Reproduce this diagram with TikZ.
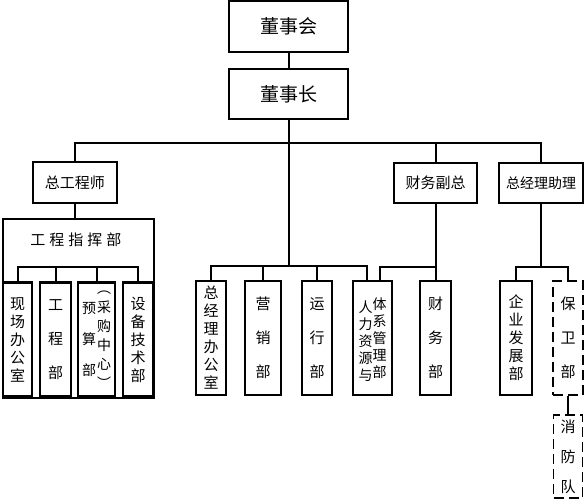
\documentclass[tikz,border=0pt]{standalone}
\usepackage{fontspec}
\setmainfont{Noto Sans CJK SC}
\usetikzlibrary{positioning}

\begin{document}
\begin{tikzpicture}[x=1pt, y=-1pt,
  topbox/.style={draw, line width=1.6pt, inner sep=0pt, align=center},
  unitbox/.style={draw, line width=2.4pt, inner sep=0pt, align=center,
                  minimum height=114pt, font=\fontsize{15}{18}\selectfont},
  dashbox/.style={unitbox, line width=1.8pt, dash pattern=on 10pt off 5pt},
  link/.style={line width=2pt},
]
\useasboundingbox (0,0) rectangle (584,500);

% Board and chairman
\node[topbox, minimum width=119pt, minimum height=51pt, font=\fontsize{19}{19}\selectfont] (board) at (288.5, 26.5) {董事会};
\node[topbox, minimum width=119pt, minimum height=50pt, font=\fontsize{19}{19}\selectfont] (chair) at (288.5, 94) {董事长};

% Second level
\node[topbox, minimum width=84pt, minimum height=41pt, font=\fontsize{15}{15}\selectfont] (chiefeng) at (75, 182.5) {总工程师};
\node[topbox, minimum width=83pt, minimum height=40pt, font=\fontsize{15}{15}\selectfont] (fin) at (435.5, 183) {财务副总};
\node[topbox, minimum width=84pt, minimum height=40pt, font=\fontsize{14}{14}\selectfont] (asst) at (541, 183) {总经理助理};

% Engineering command
\node[topbox, minimum width=151pt, minimum height=179pt] (cmd) at (78.5, 308.5) {};
\node[font=\fontsize{15}{15}\selectfont, inner sep=0pt] (cmdtitle) at (76, 240) {工\hspace{4pt}程\hspace{4pt}指\hspace{4pt}挥\hspace{4pt}部};
\node[unitbox, minimum width=29pt] (site) at (17.5, 339.5) {现\\场\\办\\公\\室};
\node[unitbox, minimum width=31pt, font=\fontsize{15}{34}\selectfont] (eng) at (55.5, 339.5) {工\\程\\部};
\node[unitbox, minimum width=37pt] (budget) at (96.5, 339.5)
  {\parbox[c]{15pt}{\centering\fontsize{14}{31}\selectfont 预\\算\\部}\parbox[c]{15pt}{\centering\fontsize{14}{19}\selectfont ︵\\采\\购\\中\\心\\︶}};
\node[unitbox, minimum width=30pt] (equip) at (138, 339.5) {设\\备\\技\\术\\部};

% Departments
\node[unitbox, minimum width=30pt] (office) at (211, 338) {总\\经\\理\\办\\公\\室};
\node[unitbox, minimum width=36pt, font=\fontsize{15}{34}\selectfont] (sales) at (263, 338) {营\\销\\部};
\node[unitbox, minimum width=30pt, font=\fontsize{15}{34}\selectfont] (ops) at (317, 338) {运\\行\\部};
\node[unitbox, minimum width=39pt, font=\fontsize{14}{17}\selectfont] (hr) at (372.5, 338)
  {\begin{tabular}[c]{@{}c@{}}\\[-6pt]人\\力\\资\\源\\与\end{tabular}\begin{tabular}[c]{@{}c@{}}体\\系\\管\\理\\部\\[-4pt]\end{tabular}};
\node[unitbox, minimum width=31pt, font=\fontsize{15}{34}\selectfont] (findept) at (435.5, 338) {财\\务\\部};
\node[unitbox, minimum width=32pt] (dev) at (516, 338) {企\\业\\发\\展\\部};
\node[dashbox, minimum width=30pt, font=\fontsize{15}{34}\selectfont] (security) at (568, 338) {保\\卫\\部};
\node[dashbox, minimum width=29pt, minimum height=83pt, font=\fontsize{15}{30}\selectfont] (fire) at (568, 456.5) {消\\防\\队};

% Bus lines
\coordinate (bus) at (0, 143);
\coordinate (midbar) at (0, 266);
\coordinate (cmdbar) at (0, 267);
\coordinate (finbar) at (0, 267);
\coordinate (asstbar) at (0, 267);
\coordinate (hrl) at ([xshift=-5.5pt]hr.north);
\coordinate (hrr) at ([xshift=7.5pt]hr.north);

\draw[link] (board) -- (chair);
\draw[link] (chair.south) -- (chair.south |- midbar);
\draw[link] (chiefeng.north) |- (asst.north |- bus) -- (asst.north);
\draw[link] (fin.north) -- (fin.north |- bus);

\draw[link] (chiefeng.south) -- (chiefeng.south |- cmd.north);
\draw[link] (site.north) |- (equip.north |- cmdbar) -- (equip.north);
\draw[link] (eng.north) -- (eng.north |- cmdbar);
\draw[link] (budget.north) -- (budget.north |- cmdbar);

\draw[link] (office.north) |- (hrl |- midbar) -- (hrl);
\draw[link] (sales.north) -- (sales.north |- midbar);
\draw[link] (ops.north) -- (ops.north |- midbar);

\draw[link] (fin.south) -- (findept.north);
\draw[link] (hrr) |- (findept.north |- finbar);

\draw[link] (asst.south) -- (asst.south |- asstbar);
\draw[link] (dev.north) |- (security.north |- asstbar) -- (security.north);
\draw[link] (security) -- (fire);
\end{tikzpicture}
\end{document}
